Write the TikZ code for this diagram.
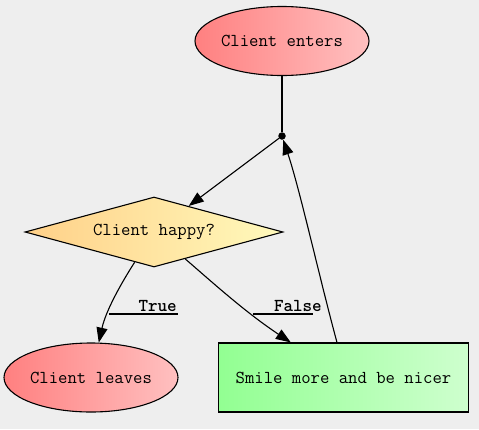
\documentclass[tikz,border=0pt]{standalone}
\usepackage{fontspec}
\usetikzlibrary{shapes.geometric,arrows.meta}
\definecolor{bg}{HTML}{EEEEEE}
\definecolor{redL}{RGB}{255,128,128}
\definecolor{redR}{RGB}{255,192,192}
\definecolor{yelL}{RGB}{255,208,136}
\definecolor{yelR}{RGB}{255,250,188}
\definecolor{grnL}{RGB}{146,255,146}
\definecolor{grnR}{RGB}{206,255,206}
\tikzset{
  txt/.style={font=\ttfamily\fontsize{18.2}{20}\selectfont},
  oval/.style={ellipse, draw, line width=1.1pt, inner sep=0pt, minimum width=174pt, minimum height=69pt, left color=redL, right color=redR, txt},
  decision/.style={diamond, draw, line width=1.1pt, inner sep=0pt, minimum width=258pt, minimum height=70pt, aspect=3.7, left color=yelL, right color=yelR, txt},
  actbox/.style={rectangle, draw, line width=1.1pt, inner sep=0pt, minimum width=250pt, minimum height=69pt, left color=grnL, right color=grnR, txt},
  junction/.style={circle, fill=black, inner sep=0pt, minimum size=7.5pt},
  elabel/.style={font=\ttfamily\bfseries\fontsize{18.2}{20}\selectfont, inner sep=1pt},
  edge/.style={line width=1.1pt, -{Triangle[length=15pt,width=11pt]}},
}
\begin{document}
\begin{tikzpicture}[x=1pt,y=-1pt]
\useasboundingbox (0,0) rectangle (479,429);
\fill[bg] (0,0) rectangle (479,429);
\node[oval] (enter) at (282,41) {Client enters};
\node[junction] (dot) at (282,136) {};
\node[decision] (happy) at (154,232) {Client happy?};
\node[oval] (leaves) at (91,377.5) {Client leaves};
\node[actbox] (smile) at (343.5,377.5) {Smile more and be nicer};
\draw[line width=1.1pt] (enter) -- (dot);
\draw[edge] (dot) -- (happy);
\draw[edge] (happy) .. controls (122,282) and (106,310) .. (leaves);
\draw[edge] (happy) .. controls (212,282) and (245,312) .. (smile);
\draw[edge] (smile.north -| 337,0) .. controls (320,280) and (300,190) .. (dot);
\node[elabel, anchor=south east] (truel) at (178,313) {True};
\node[elabel, anchor=south east] (falsel) at (323,313) {False};
\draw[line width=1.1pt] ([xshift=-28pt,yshift=-1pt]truel.south west) -- ([yshift=-1pt]truel.south east);
\draw[line width=1.1pt] ([xshift=-20pt,yshift=-1pt]falsel.south west) -- ([xshift=-10pt,yshift=-1pt]falsel.south east);
\end{tikzpicture}
\end{document}
